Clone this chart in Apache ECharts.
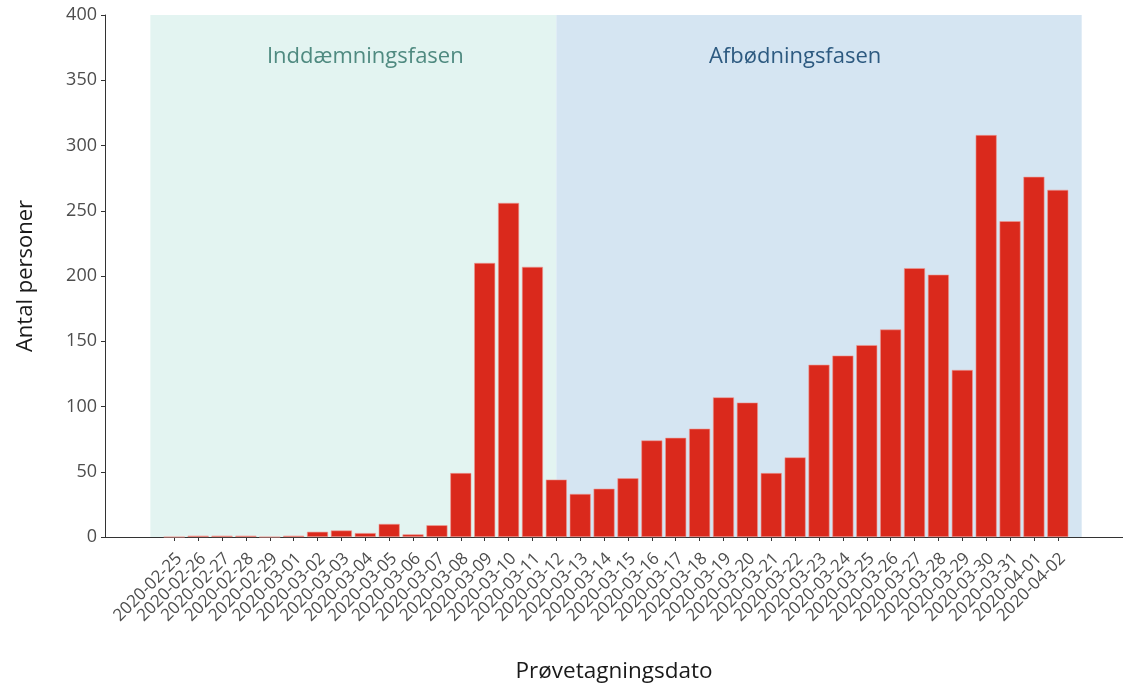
<!DOCTYPE html>
<html>
<head>
<meta charset="utf-8">
<script src="https://cdn.jsdelivr.net/npm/echarts@6/dist/echarts.min.js"></script>
<style>html,body{margin:0;padding:0;background:#fff}#c{width:1123px;height:683px}</style>
</head>
<body>
<div id="c"></div>
<script>
const dates = ["2020-02-25","2020-02-26","2020-02-27","2020-02-28","2020-02-29",
"2020-03-01","2020-03-02","2020-03-03","2020-03-04","2020-03-05","2020-03-06","2020-03-07",
"2020-03-08","2020-03-09","2020-03-10","2020-03-11","2020-03-12","2020-03-13","2020-03-14",
"2020-03-15","2020-03-16","2020-03-17","2020-03-18","2020-03-19","2020-03-20","2020-03-21",
"2020-03-22","2020-03-23","2020-03-24","2020-03-25","2020-03-26","2020-03-27","2020-03-28",
"2020-03-29","2020-03-30","2020-03-31","2020-04-01","2020-04-02"];
const counts = [0,1,1,1,0,1,4,5,3,10,2,9,49,210,256,207,44,33,37,45,74,76,83,107,103,49,61,132,139,147,159,206,201,128,308,242,276,266];
const yTicks = [0,50,100,150,200,250,300,350,400];
const phases = [
  {name:"Inddæmningsfasen", from:-1, to:16, labelAt:8, color:"#e3f4f1", text:"#4f8a80"},
  {name:"Afbødningsfasen", from:16, to:38, labelAt:26, color:"#d5e5f2", text:"#2d5a80"}
];
const FONT = "Open Sans";
const idx = dates.map((d,i)=>i);
const chart = echarts.init(document.getElementById('c'), null, {renderer:'canvas'});
chart.setOption({
  animation:false,
  backgroundColor:'#fff',
  grid:{left:105, right:0, top:15, bottom:146, containLabel:false, outerBoundsMode:'none'},
  xAxis:{
    type:'value', min:-2.90, max:39.73,
    splitLine:{show:false},
    axisLine:{show:true, onZero:false, lineStyle:{color:'#333', width:1}},
    axisTick:{show:true, customValues:idx, length:4, lineStyle:{color:'#333'}},
    axisLabel:{show:true, customValues:idx, rotate:45, fontSize:17, lineHeight:14, color:'#4d4d4d', fontFamily:FONT,
      align:'right', verticalAlign:'top',
      formatter:v=>dates[Math.round(v)], margin:14, hideOverlap:false},
    name:'Prøvetagningsdato', nameLocation:'middle', nameGap:123,
    nameTextStyle:{fontSize:22.5, color:'#1a1a1a', fontFamily:FONT}
  },
  yAxis:{
    type:'value', min:0, max:400, interval:50,
    splitLine:{show:false},
    axisLine:{show:true, onZero:false, lineStyle:{color:'#333', width:1}},
    axisTick:{show:true, length:4, lineStyle:{color:'#333'}},
    axisLabel:{fontSize:18, color:'#4d4d4d', fontFamily:FONT, margin:8,
      customValues:yTicks, formatter:v=>String(v)},
    name:'Antal personer', nameLocation:'middle', nameGap:68,
    nameTextStyle:{fontSize:22, color:'#1a1a1a', fontFamily:FONT}
  },
  series:[{
    type:'bar',
    data:counts.map((v,i)=>[i,v]),
    barWidth:21,
    itemStyle:{color:'#da291c', borderColor:'#ee9a94', borderWidth:0.6},
    markArea:{
      silent:true,
      data:phases.map(p=>[{xAxis:p.from, yAxis:0, itemStyle:{color:p.color}}, {xAxis:p.to, yAxis:400}]),
      label:{show:false}
    },
    markPoint:{
      silent:true,
      symbol:'circle', symbolSize:1,
      itemStyle:{color:'rgba(0,0,0,0)'},
      data:phases.map(p=>({coord:[p.labelAt,368], label:{show:true, position:'inside', formatter:p.name,
        fontSize:22, color:p.text, fontFamily:FONT}}))
    },
    z:2
  }]
});
</script>
</body>
</html>
